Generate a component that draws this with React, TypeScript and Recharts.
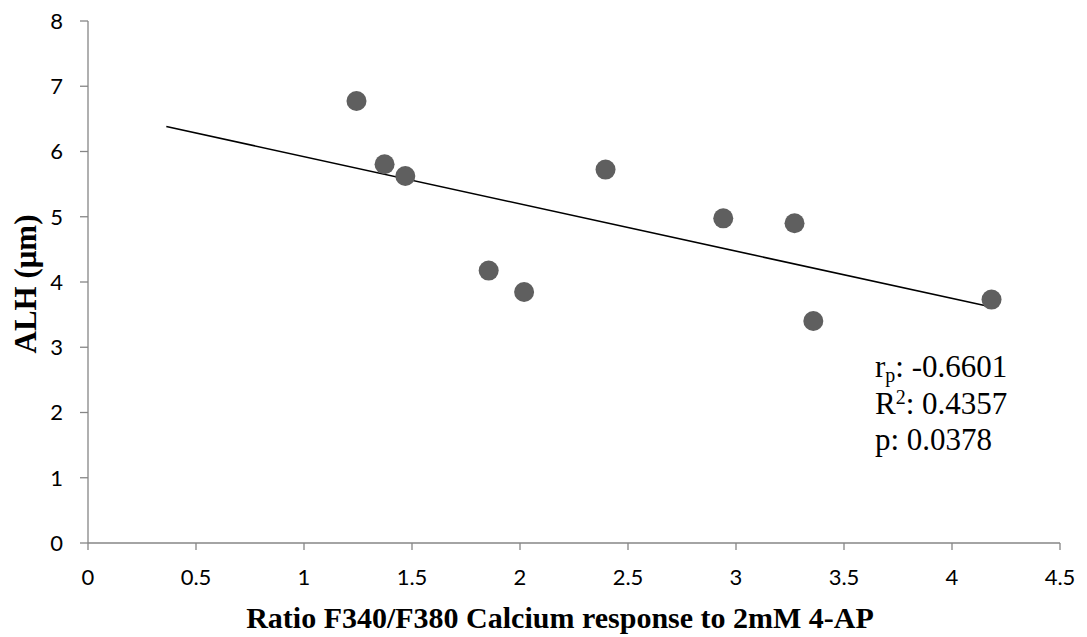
import React from 'react';
import { ScatterChart, Scatter, XAxis, YAxis, ReferenceLine, Customized } from 'recharts';

const ratioValues = [1.243, 1.373, 1.469, 1.855, 2.019, 2.396, 2.941, 3.271, 3.358, 4.183];
const alhValues = [6.774, 5.804, 5.625, 4.175, 3.847, 5.723, 4.976, 4.9, 3.402, 3.73];
const xTicks = [0, 0.5, 1, 1.5, 2, 2.5, 3, 3.5, 4, 4.5];
const yTicks = [0, 1, 2, 3, 4, 5, 6, 7, 8];
const trendX = [0.3625, 4.183];
const trendY = [6.382, 3.617];
const statLines = [
  { label: 'r', sub: 'p', sup: '', value: ': -0.6601' },
  { label: 'R', sub: '', sup: '2', value: ': 0.4357' },
  { label: 'p', sub: '', sup: '', value: ': 0.0378' },
];

const points = ratioValues.map((x, i) => ({ x, y: alhValues[i] }));
const trendSegment = trendX.map((x, i) => ({ x, y: trendY[i] }));

const tickFont = { fontFamily: 'Lato, "Open Sans", sans-serif', fontSize: 22, fill: '#000' };
const serif = '"Liberation Serif", "Times New Roman", serif';

const Stats = () => (
  <g>
    {statLines.map((s, i) => (
      <text key={i} x={875} y={377 + i * 36.5} fontFamily={serif} fontSize={31} fill="#000">
        <tspan>{s.label}</tspan>
        {s.sub ? <tspan fontSize={20} dy={5}>{s.sub}</tspan> : null}
        {s.sup ? <tspan fontSize={20} dy={-10}>{s.sup}</tspan> : null}
        <tspan dy={s.sub ? -5 : s.sup ? 10 : 0}>{s.value}</tspan>
      </text>
    ))}
  </g>
);

const Titles = () => (
  <g>
    <text x={560} y={628} textAnchor="middle" fontFamily={serif} fontWeight="bold" fontSize={30} fill="#000">
      Ratio F340/F380 Calcium response to 2mM 4-AP
    </text>
    <text
      x={36}
      y={284}
      textAnchor="middle"
      transform="rotate(-90 36 284)"
      fontFamily={serif}
      fontWeight="bold"
      fontSize={31}
      fill="#000"
    >
      ALH (μm)
    </text>
  </g>
);

export default function App() {
  return (
    <div style={{ position: 'absolute', left: 0, top: 0, background: '#fff' }}>
      <ScatterChart width={1087} height={637} margin={{ top: 21, right: 27, bottom: 64, left: 0 }}>
        <XAxis
          type="number"
          dataKey="x"
          domain={[0, 4.5]}
          ticks={xTicks}
          interval={0}
          height={30}
          axisLine={{ stroke: '#868686', strokeWidth: 1.3 }}
          tickLine={{ stroke: '#868686', strokeWidth: 1.3 }}
          tickSize={7}
          tickMargin={19}
          tick={tickFont}
          allowDataOverflow
        />
        <YAxis
          type="number"
          dataKey="y"
          domain={[0, 8]}
          ticks={yTicks}
          interval={0}
          width={88}
          axisLine={{ stroke: '#868686', strokeWidth: 1.3 }}
          tickLine={{ stroke: '#868686', strokeWidth: 1.3 }}
          tickSize={8}
          tickMargin={17}
          tick={tickFont}
          allowDataOverflow
        />
        <ReferenceLine segment={trendSegment} stroke="#000" strokeWidth={1.6} ifOverflow="visible" />
        <Scatter
          data={points}
          isAnimationActive={false}
          shape={(p: any) => <circle cx={p.cx} cy={p.cy} r={10} fill="#5f5f5f" />}
        />
        <Customized component={Stats} />
        <Customized component={Titles} />
      </ScatterChart>
    </div>
  );
}
